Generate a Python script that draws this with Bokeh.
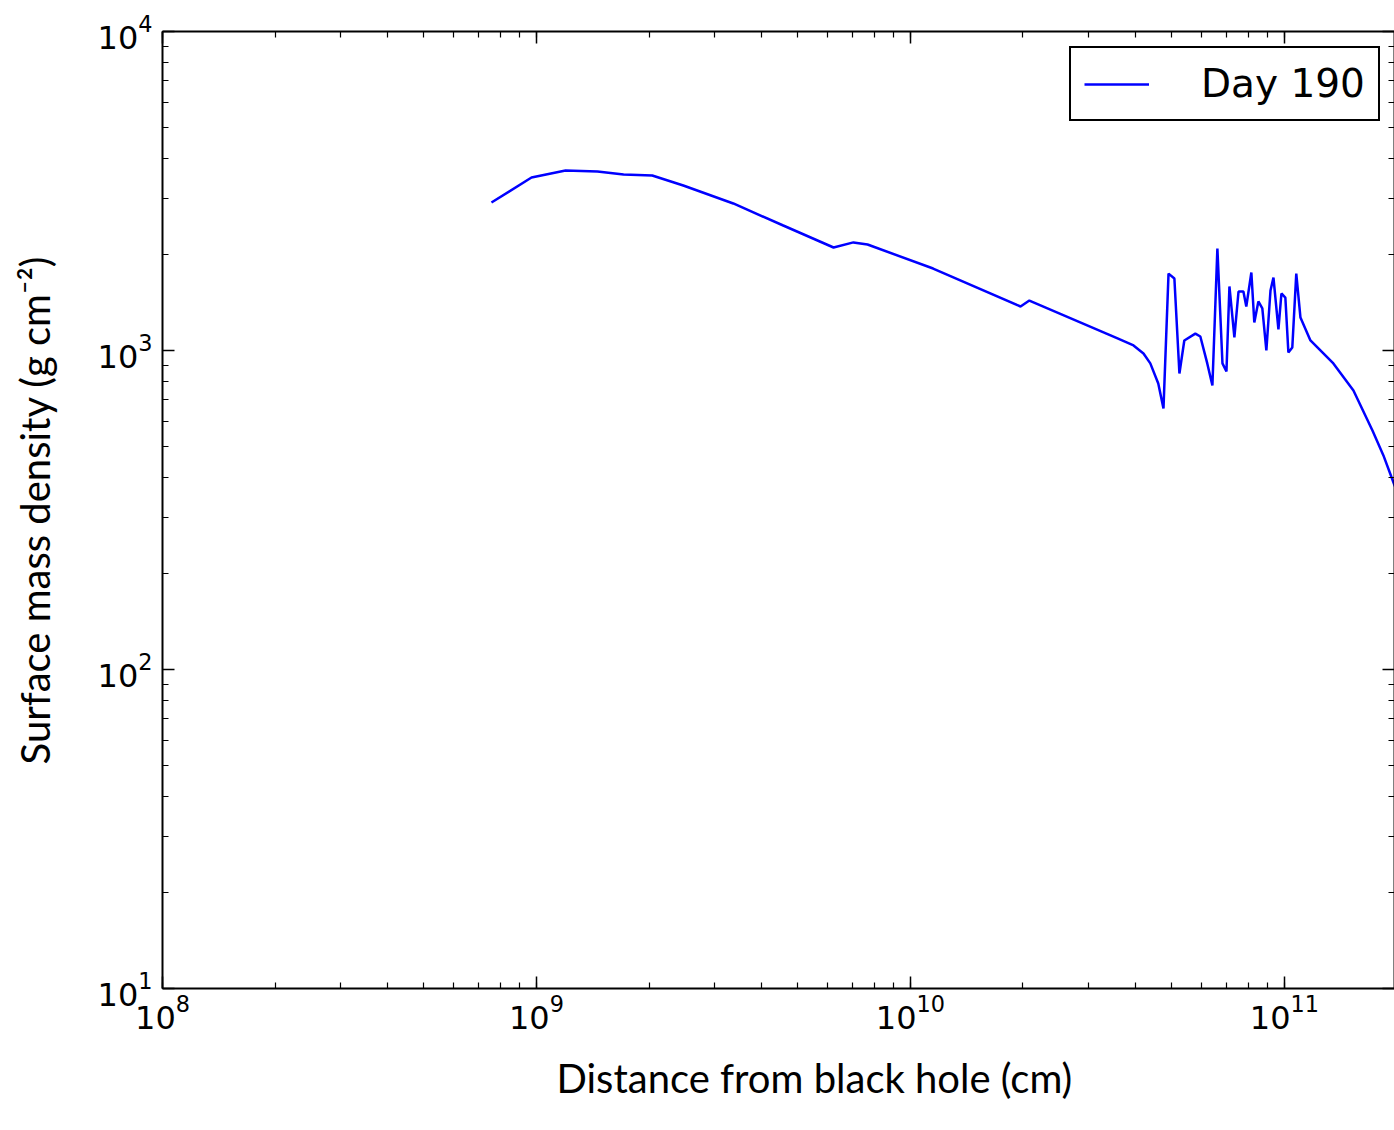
from bokeh.plotting import figure
from bokeh.models import LogAxis, LogTicker, Legend, LegendItem, Title, ColumnDataSource, CustomJSTickFormatter
from bokeh.embed import file_html
from bokeh.resources import INLINE

# Day 190 profile: distance from black hole (cm) vs surface mass density (g cm^-2)
distance_cm = [7.58e8, 9.70e8, 1.196e9, 1.456e9, 1.71e9, 2.04e9, 2.47e9, 3.36e9, 4.57e9, 6.23e9,
               7.04e9, 7.68e9, 1.15e10, 1.97e10, 2.08e10, 3.58e10, 3.95e10, 4.20e10, 4.38e10, 4.60e10,
               4.75e10, 4.90e10, 5.08e10, 5.24e10, 5.40e10, 5.78e10, 5.96e10, 6.22e10, 6.42e10, 6.62e10,
               6.83e10, 7.00e10, 7.13e10, 7.35e10, 7.54e10, 7.77e10, 7.91e10, 8.16e10, 8.31e10, 8.52e10,
               8.73e10, 8.95e10, 9.18e10, 9.35e10, 9.64e10, 9.82e10, 1.006e11, 1.025e11, 1.05e11, 1.076e11,
               1.104e11, 1.174e11, 1.352e11, 1.53e11, 1.72e11, 1.84e11, 1.97e11, 2.1e11]
surface_density = [2911, 3486, 3666, 3640, 3563, 3537, 3290, 2890, 2465, 2103,
                   2182, 2149, 1807, 1374, 1434, 1091, 1037, 979, 911, 788,
                   658, 1742, 1682, 847, 1075, 1130, 1106, 911, 777, 2089,
                   911, 859, 1588, 1099, 1531, 1531, 1374, 1756, 1224, 1425,
                   1355, 1000, 1542, 1693, 1164, 1509, 1466, 986, 1022, 1742,
                   1268, 1075, 911, 749, 561, 469, 378, 320]
series_label = "Day 190"
x_label = "Distance from black hole (cm)"
y_label = "Surface mass density (g cm\u207b\u00b2)"
x_limits = (1e8, 1.97e11)
y_limits = (1e1, 1e4)

p = figure(width=1394, height=1130, x_axis_type="log", y_axis_type="log",
           x_range=x_limits, y_range=y_limits,
           output_backend="svg", toolbar_location=None,
           min_border_left=162, min_border_top=31, min_border_bottom=142, min_border_right=0)
p.outline_line_color = None
p.grid.visible = False
p.background_fill_color = "white"
p.border_fill_color = "white"

src = ColumnDataSource(dict(x=distance_cm, y=surface_density))
r = p.line("x", "y", source=src, line_color="#0000ff", line_width=2.5)

def style_axis(ax, labels=True, standoff=10):
    ax.ticker = LogTicker(num_minor_ticks=10)
    ax.axis_line_color = "black"
    ax.axis_line_width = 2
    ax.major_tick_in = 12
    ax.major_tick_out = 0
    ax.minor_tick_in = 6
    ax.minor_tick_out = 0
    ax.major_tick_line_color = "black"
    ax.minor_tick_line_color = "black"
    ax.major_tick_line_width = 1.5
    ax.minor_tick_line_width = 1.2
    if labels:
        ax.major_label_text_font = "DejaVu Sans"
        ax.major_label_text_font_size = "32px"
        ax.major_label_text_color = "black"
        ax.major_label_standoff = standoff
    else:
        ax.formatter = CustomJSTickFormatter(code="return '';")
        ax.major_label_standoff = 0

xa = p.xaxis[0]
ya = p.yaxis[0]
style_axis(xa, standoff=5)
style_axis(ya, standoff=10)
ya.axis_label = y_label
ya.axis_label_text_font = "Lato"
ya.axis_label_text_font_style = "normal"
ya.axis_label_text_font_size = "40px"
ya.axis_label_text_color = "black"
ya.axis_label_standoff = 36

top = LogAxis()
style_axis(top, labels=False)
p.add_layout(top, "above")
right = LogAxis()
style_axis(right, labels=False)
p.add_layout(right, "right")

p.add_layout(Title(text=x_label, align="left", offset=394, standoff=40,
                   vertical_align="bottom",
                   text_font="Lato", text_font_size="40px", text_font_style="normal",
                   text_color="black"), "below")

legend = Legend(items=[LegendItem(label=series_label, renderers=[r])],
                location=(907, 867), orientation="vertical",
                label_text_font="DejaVu Sans", label_text_font_size="39px",
                label_text_color="black", glyph_width=65, label_standoff=52,
                padding=13, label_width=163, border_line_color="black",
                border_line_alpha=1.0, border_line_width=2,
                background_fill_color="white", background_fill_alpha=1.0,
                margin=0)
p.add_layout(legend)

open("out.html", "w").write(file_html(p, INLINE))
